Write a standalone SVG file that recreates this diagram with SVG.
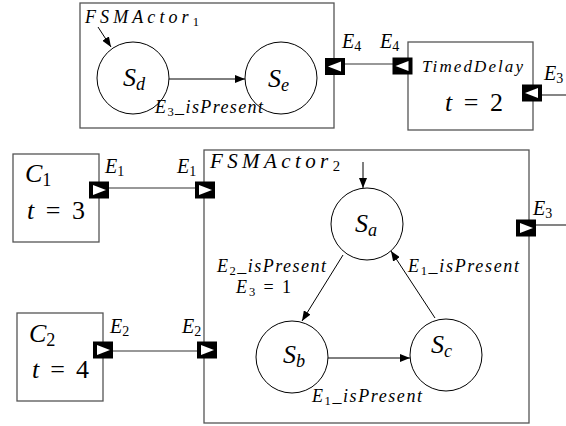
<svg xmlns="http://www.w3.org/2000/svg" width="566" height="426" viewBox="0 0 566 426">
<style>
.box{fill:#fff;stroke:#555;stroke-width:1.3}
.st{fill:#fff;stroke:#000;stroke-width:1}
.ln{fill:none;stroke:#333;stroke-width:1.2}
.ar{fill:none;stroke:#000;stroke-width:1;marker-end:url(#ah)}
text{font-family:'Liberation Serif',serif;font-style:italic;fill:#000}
.e{font-size:20px}
.tr{font-size:18px}
.big{font-size:26px}
.a1{font-size:18px}
.a2{font-size:21px}
.td{font-size:17px}
.n{font-style:normal}
.s{font-style:normal;font-size:70%}
.si{font-style:italic;font-size:70%}
</style>
<defs>
<marker id="ah" viewBox="0 0 10 8" refX="10" refY="4" markerWidth="10" markerHeight="8" markerUnits="userSpaceOnUse" orient="auto">
<path d="M0,0 L10,4 L0,8 Z" fill="#000"/>
</marker>
<g id="port">
<rect x="-10" y="-8.5" width="20" height="17" fill="#000"/>
<polygon points="-6,-5 7,0 -6,5" fill="#fff"/>
</g>
</defs>

<g id="connectors">
<line class="ln" x1="345" y1="64" x2="393" y2="64"/>
<line class="ln" x1="542" y1="95" x2="566" y2="95"/>
<line class="ln" x1="109" y1="188" x2="195" y2="188"/>
<line class="ln" x1="113" y1="351" x2="199" y2="351"/>
<line class="ln" x1="535" y1="225" x2="566" y2="225"/>
</g>

<g id="FSMActor1">
<rect class="box" x="80" y="3" width="254" height="125"/>
<text class="a1" x="85" y="23" textLength="114">FSMActor<tspan class="s" dy="3">1</tspan></text>
<line class="ar" x1="98" y1="27" x2="111" y2="47"/>
<g id="Sd">
<circle class="st" cx="133" cy="78" r="36"/>
<text class="big" x="123" y="86">S<tspan class="si" dy="4">d</tspan></text>
</g>
<g id="Se">
<circle class="st" cx="281" cy="78" r="36"/>
<text class="big" x="268" y="87">S<tspan class="si" dy="4">e</tspan></text>
</g>
<line class="ar" x1="169" y1="79" x2="245" y2="79"/>
<text class="tr" x="155" y="113" textLength="108">E<tspan class="s" dy="3">3</tspan><tspan dy="-3">_isPresent</tspan></text>
<use href="#port" transform="translate(335,66.5) scale(-1,1)"/>
<text class="e" x="342" y="48">E<tspan class="s" dy="3">4</tspan></text>
</g>

<g id="TimedDelay">
<rect class="box" x="408" y="42" width="125" height="88"/>
<text class="td" x="422" y="72" textLength="101">TimedDelay</text>
<text class="big" x="445" y="111" textLength="58">t <tspan class="n">= 2</tspan></text>
<use href="#port" transform="translate(402.5,66) scale(-1,1)"/>
<text class="e" x="380" y="48">E<tspan class="s" dy="3">4</tspan></text>
<use href="#port" transform="translate(532,93) scale(-1,1)"/>
<text class="e" x="544" y="80">E<tspan class="s" dy="3">3</tspan></text>
</g>

<g id="C1">
<rect class="box" x="13" y="154" width="86" height="88"/>
<text class="big" x="25" y="182">C<tspan class="s" dy="4">1</tspan></text>
<text class="big" x="27" y="219" textLength="58">t <tspan class="n">= 3</tspan></text>
<use href="#port" transform="translate(99,190)"/>
<text class="e" x="105" y="173">E<tspan class="s" dy="3">1</tspan></text>
</g>

<g id="C2">
<rect class="box" x="17" y="313" width="86" height="88"/>
<text class="big" x="29" y="342">C<tspan class="s" dy="4">2</tspan></text>
<text class="big" x="32" y="378" textLength="57">t <tspan class="n">= 4</tspan></text>
<use href="#port" transform="translate(103,350)"/>
<text class="e" x="110" y="333">E<tspan class="s" dy="3">2</tspan></text>
</g>

<g id="FSMActor2">
<rect class="box" x="204" y="150" width="325" height="273"/>
<text class="a2" x="210" y="168" textLength="130">FSMActor<tspan class="s" dy="3">2</tspan></text>
<line class="ar" x1="363" y1="162" x2="363" y2="188"/>
<g id="Sa">
<circle class="st" cx="367" cy="224" r="36"/>
<text class="big" x="355" y="232">S<tspan class="si" dy="4">a</tspan></text>
</g>
<g id="Sb">
<circle class="st" cx="292" cy="357" r="36"/>
<text class="big" x="283" y="363">S<tspan class="si" dy="4">b</tspan></text>
</g>
<g id="Sc">
<circle class="st" cx="446" cy="355" r="36"/>
<text class="big" x="431" y="353">S<tspan class="si" dy="4">c</tspan></text>
</g>
<line class="ar" x1="343" y1="255" x2="302" y2="321"/>
<line class="ar" x1="435" y1="318" x2="391" y2="251"/>
<line class="ar" x1="328" y1="358" x2="410" y2="358"/>
<text class="tr" x="217" y="272" textLength="109">E<tspan class="s" dy="3">2</tspan><tspan dy="-3">_isPresent</tspan></text>
<text class="tr" x="236" y="293" textLength="55">E<tspan class="s" dy="3">3</tspan><tspan class="n" dy="-3"> = 1</tspan></text>
<text class="tr" x="408" y="272" textLength="111">E<tspan class="s" dy="3">1</tspan><tspan dy="-3">_isPresent</tspan></text>
<text class="tr" x="312" y="402" textLength="110">E<tspan class="s" dy="3">1</tspan><tspan dy="-3">_isPresent</tspan></text>
<use href="#port" transform="translate(205,190)"/>
<text class="e" x="177" y="173">E<tspan class="s" dy="3">1</tspan></text>
<use href="#port" transform="translate(207,350)"/>
<text class="e" x="182" y="333">E<tspan class="s" dy="3">2</tspan></text>
<use href="#port" transform="translate(526,228)"/>
<text class="e" x="533" y="215">E<tspan class="s" dy="3">3</tspan></text>
</g>
</svg>
